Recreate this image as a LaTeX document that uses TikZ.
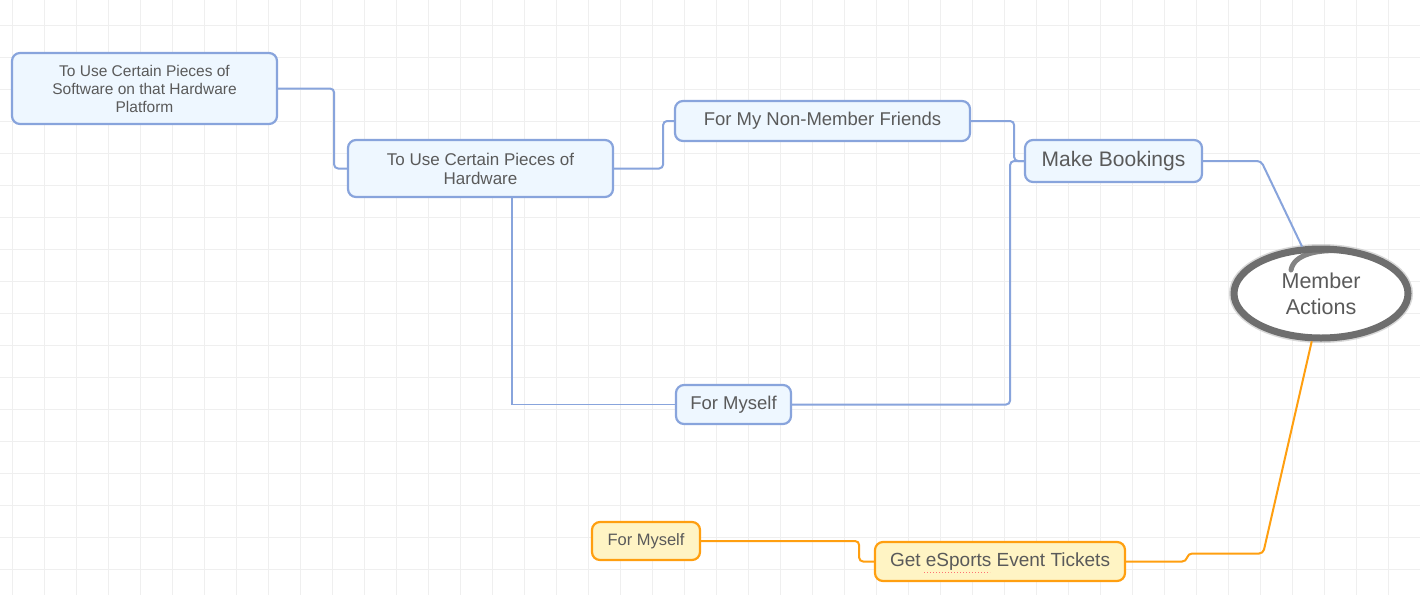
\documentclass[tikz,border=0pt]{standalone}
\usepackage{fontspec}
\setmainfont{Liberation Sans}
\usetikzlibrary{shapes.geometric}
\definecolor{boxblue}{HTML}{88A4DC}
\definecolor{fillblue}{HTML}{EEF7FF}
\definecolor{boxorange}{HTML}{FF9F10}
\definecolor{fillorange}{HTML}{FFF4C4}
\definecolor{txtgray}{HTML}{5A5A5A}
\definecolor{gridgray}{HTML}{EFEFEF}
\definecolor{brushgray}{HTML}{6E6E6E}
\begin{document}
\begin{tikzpicture}[x=1pt,y=-1pt,
  topic/.style={draw=boxblue, fill=fillblue, rounded corners=8pt, line width=2.2pt, inner sep=0pt, text=txtgray, align=center},
  ticket/.style={topic, draw=boxorange, fill=fillorange},
  link/.style={draw=boxblue, line width=2pt, rounded corners=4pt},
  olink/.style={link, draw=boxorange},
  gridline/.style={draw=gridgray, line width=1pt}]
\def\r{4pt}
\def\b{7pt}
\useasboundingbox (0,0) rectangle (1420,595);
\fill[white] (0,0) rectangle (1420,595);
\foreach \gx in {12,44,...,1420} \draw[gridline] (\gx,0) -- (\gx,595);
\foreach \gy in {25,57,...,595} \draw[gridline] (0,\gy) -- (1420,\gy);

\node [topic, minimum width=265pt, minimum height=71pt, font=\fontsize{15.5}{18}\selectfont, name=sw] at (144.5,88.5) {To Use Certain Pieces of\\Software on that Hardware\\Platform};
\node [topic, minimum width=265pt, minimum height=57pt, font=\fontsize{17}{19}\selectfont, name=hw] at (480.5,168.5) {To Use Certain Pieces of\\Hardware};
\node [topic, minimum width=295pt, minimum height=40pt, font=\fontsize{18.5}{22}\selectfont, name=fr] at (822.5,121) {For My Non-Member Friends};
\node [topic, minimum width=177pt, minimum height=42pt, font=\fontsize{21}{24}\selectfont, name=mb] at (1113.5,161) {Make Bookings};
\node [topic, minimum width=115pt, minimum height=39pt, font=\fontsize{18.5}{22}\selectfont, name=me] at (733.5,404.5) {For Myself};
\node [ticket, minimum width=108pt, minimum height=38pt, font=\fontsize{16.5}{20}\selectfont, name=of] at (646,541) {For Myself};
\node [ticket, minimum width=250pt, minimum height=39pt, font=\fontsize{19}{22}\selectfont, name=gt] at (1000,561.5) {Get eSports Event Tickets};
\draw [red!55, dotted, line width=1pt] (924,572) -- (990,572);

\draw [brushgray!45, line width=10pt, opacity=.6] (1321,293.5) ellipse [x radius=87, y radius=44.5];
\node [ellipse, draw=brushgray, line width=\b, fill=white, minimum width=174pt, minimum height=89pt, inner sep=0pt, text=txtgray, align=center, font=\fontsize{21.5}{26}\selectfont, name=ma] at (1321,293.5) {Member\\Actions};
\draw [brushgray, line width=5pt, opacity=.85, line cap=round] (1291,270) .. controls (1294,254) and (1318,249) .. (1345,251);

\draw [link] (sw.east) -- ++(56,0) |- (hw.west);
\draw [link] (hw.east) -- ++(49,0) |- (fr.west);
\draw [link, line width=1.2pt, rounded corners=0pt] ([xshift=31.5pt]hw.south) |- (me.west);
\draw [link] (fr.east) -- ++(43,0) |- (mb.west);
\draw [link] (me.east) -- ++(218,0) |- (mb.west);
\draw [link] (mb.east) -- ++(58,0) -- (ma.112);
\draw [olink] (of.east) -- ++(158,0) |- (gt.west);
\draw [olink] (gt.east) -- ++(60,0) -- ++(2,-8) -- ++(75,0) -- (ma.259);
\end{tikzpicture}
\end{document}
